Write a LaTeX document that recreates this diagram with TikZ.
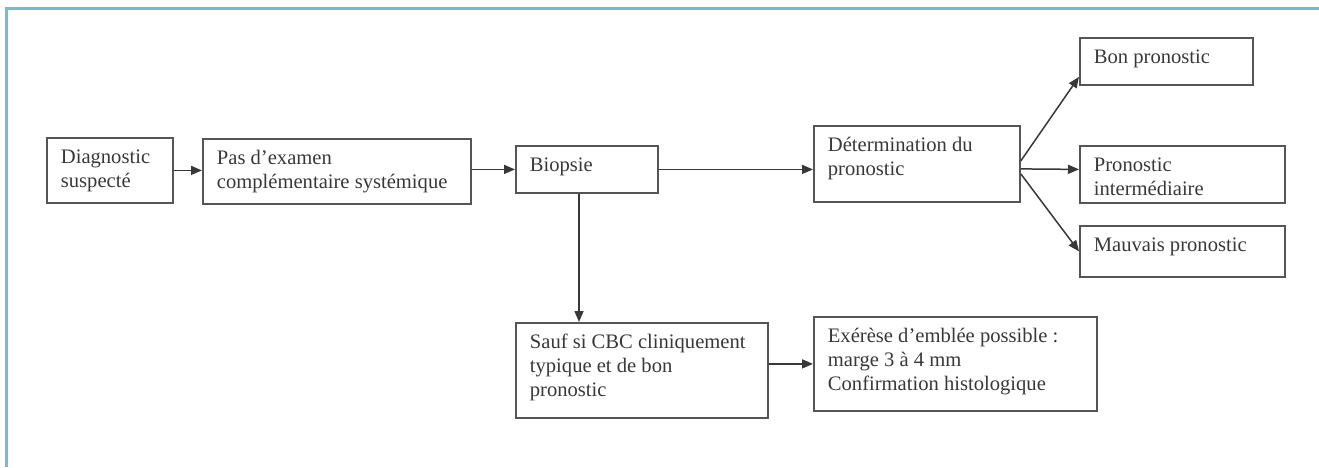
\documentclass[tikz,border=0pt]{standalone}
\usepackage{fontspec}
\setmainfont{Liberation Serif}
\usetikzlibrary{arrows.meta}
\definecolor{frameblue}{HTML}{74BCD4}
\definecolor{ink}{HTML}{383838}
\definecolor{boxline}{HTML}{555555}
\newcommand{\boxtext}[3]{\parbox[c][#2pt][t]{#1pt}{\vspace*{9pt}\leftskip=14pt\rightskip=0pt plus 1fil\strut #3}}
\begin{document}
\begin{tikzpicture}[x=1pt,y=-1pt,
  box/.style={draw=boxline, line width=1.8pt, inner sep=0pt, anchor=north west,
    font=\fontsize{20.6}{24}\selectfont, text=ink},
  arr/.style={draw=ink, line width=1.5pt, -{Triangle[length=11pt,width=9pt]}},
  framel/.style={draw=frameblue, line width=3pt}]
\useasboundingbox (0,0) rectangle (1319,467);
\draw[framel] (6.5,467) -- (6.5,8) -- (1319,8);

\node[box] (diag)  at (46,137)   {\boxtext{126}{65}{Diagnostic\\suspecté}};
\node[box] (pas)   at (202,138)  {\boxtext{268}{65}{Pas d’examen\\complémentaire systémique}};
\node[box] (bio)   at (515,145)  {\boxtext{142}{47}{Biopsie}};
\node[box] (det)   at (813,125)  {\boxtext{206}{76}{Détermination du\\pronostic}};
\node[box] (bon)   at (1079,37)  {\boxtext{173}{47}{Bon pronostic}};
\node[box] (inter) at (1079,145) {\boxtext{205}{57}{Pronostic\\intermédiaire}};
\node[box] (mauv)  at (1079,225) {\boxtext{205}{51}{Mauvais pronostic}};
\node[box] (sauf)  at (515,322)  {\boxtext{252}{95}{Sauf si CBC cliniquement\\typique et de bon\\pronostic}};
\node[box] (exe)   at (813,316)  {\boxtext{283}{94}{Exérèse d’emblée possible :\\marge 3 à 4 mm\\Confirmation histologique}};

\draw[arr] (diag.east) -- (diag.east -| pas.west);
\draw[arr] (bio.west -| pas.east) -- (bio.west);
\draw[arr] (bio.east) -- (bio.east -| det.west);
\draw[arr] ([xshift=64pt]bio.south west) -- ([xshift=64pt]sauf.north west);
\draw[arr] (exe.west -| sauf.east) -- (exe.west);
\draw[arr] ([yshift=3pt]det.east) -- ([yshift=9pt]bon.south west);
\draw[arr] ([yshift=-5pt]det.east) -- ([yshift=5pt]inter.west);
\draw[arr] ([yshift=-10pt]det.east) -- (mauv.west);
\end{tikzpicture}
\end{document}
